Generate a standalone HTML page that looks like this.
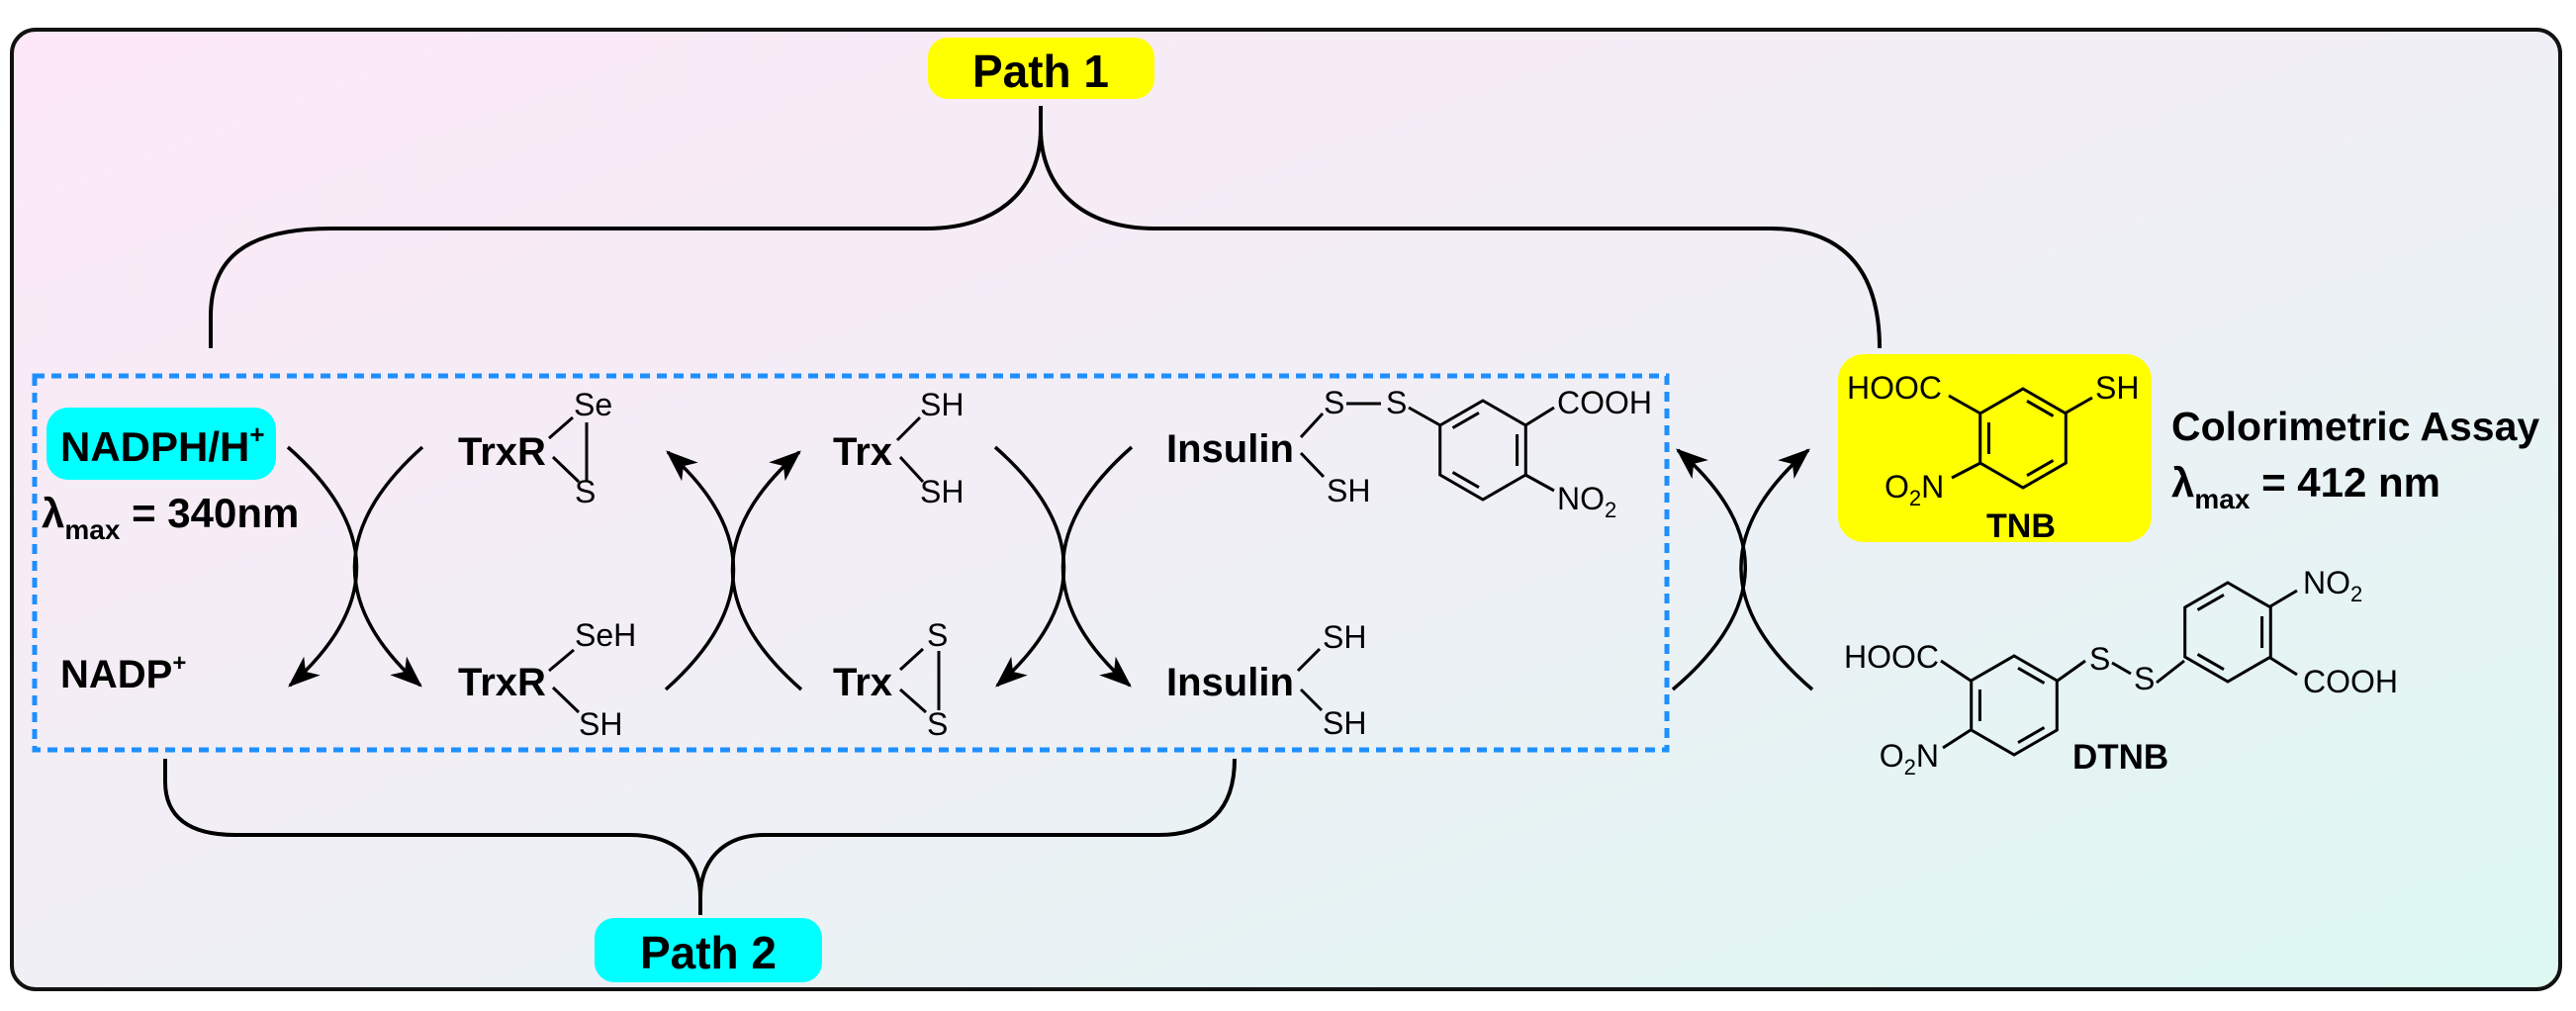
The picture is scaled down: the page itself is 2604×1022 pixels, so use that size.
<!DOCTYPE html>
<html><head><meta charset="utf-8"><style>
html,body{margin:0;padding:0;background:#fff;}
svg{display:block;}
text{font-family:"Liberation Sans",Arial,sans-serif;fill:#000;}
.b{font-weight:bold;}
.a{font-size:32px;}
.m{font-size:40px;font-weight:bold;}
</style></head><body>
<svg width="2604" height="1022" viewBox="0 0 2604 1022" xmlns="http://www.w3.org/2000/svg">
<defs>
<linearGradient id="bg" x1="0" y1="0" x2="1" y2="1">
<stop offset="0" stop-color="#fde8f7"/>
<stop offset="0.5" stop-color="#f0eff6"/>
<stop offset="1" stop-color="#dcf8f1"/>
</linearGradient>
<marker id="ah" markerUnits="userSpaceOnUse" markerWidth="40" markerHeight="40" refX="0" refY="0" viewBox="-30 -15 32 30" orient="auto">
<path d="M2,0 L-24,-10 L-17,0 L-24,10 Z" fill="#000"/>
</marker>
</defs>
<rect x="12" y="30" width="2576" height="970" rx="24" fill="url(#bg)" stroke="#111" stroke-width="4"/>

<!-- Path 1 -->
<rect x="938" y="38" width="229" height="62" rx="20" fill="#ffff00"/>
<text x="1052" y="88" class="b" font-size="46" text-anchor="middle">Path 1</text>
<!-- top brace -->
<path d="M213,352 L213,320 C213,260 250,231 335,231 L937,231 C1010,231 1052,190 1052,130 L1052,107 M1052,130 C1052,190 1094,231 1167,231 L1790,231 C1860,231 1900,270 1900,352" fill="none" stroke="#000" stroke-width="4"/>

<!-- dashed box -->
<rect x="35" y="380" width="1650" height="378" fill="none" stroke="#1e8fff" stroke-width="5" stroke-dasharray="10 7"/>

<!-- bottom brace -->
<path d="M167,767 L167,790 C167,825 190,844 238,844 L636,844 C685,844 708,870 708,907 L708,925 M708,907 C708,870 731,844 773,844 L1171,844 C1220,844 1248,820 1248,767" fill="none" stroke="#000" stroke-width="4"/>
<rect x="601" y="928" width="230" height="65" rx="20" fill="#00ffff"/>
<text x="716" y="979" class="b" font-size="46" text-anchor="middle">Path 2</text>

<!-- NADPH -->
<rect x="47" y="412" width="232" height="73" rx="22" fill="#00ffff"/>
<text x="61" y="466" class="b" font-size="42">NADPH/H<tspan font-size="26" dy="-18">+</tspan></text>
<text x="42" y="533" class="b" font-size="42">λ<tspan font-size="28" dy="12">max</tspan><tspan dy="-12"> = 340nm</tspan></text>
<text x="61" y="695" class="m">NADP<tspan font-size="24" dy="-17">+</tspan></text>

<!-- arrows -->
<g fill="none" stroke="#000" stroke-width="3.5" marker-end="url(#ah)">
<path d="M291,452 Q429,573 293,693"/>
<path d="M427,452 Q291,573 425,693"/>
<path d="M673,697 Q809,576 675,457"/>
<path d="M810,697 Q672,576 808,457"/>
<path d="M1006,452 Q1144,573 1008,693"/>
<path d="M1144,452 Q1006,573 1142,693"/>
<path d="M1691,697 Q1835,575 1696,455"/>
<path d="M1832,697 Q1690,575 1828,455"/>
</g>

<!-- TrxR top -->
<text x="463" y="470" class="m">TrxR</text>
<text x="580" y="420" class="a">Se</text>
<text x="581" y="508" class="a">S</text>
<!-- TrxR bottom -->
<text x="463" y="703" class="m">TrxR</text>
<text x="581" y="653" class="a">SeH</text>
<text x="585" y="743" class="a">SH</text>
<!-- Trx top -->
<text x="842" y="470" class="m">Trx</text>
<text x="930" y="420" class="a">SH</text>
<text x="930" y="508" class="a">SH</text>
<!-- Trx bottom -->
<text x="842" y="703" class="m">Trx</text>
<text x="937" y="653" class="a">S</text>
<text x="937" y="743" class="a">S</text>
<!-- Insulin top -->
<text x="1179" y="467" class="m">Insulin</text>
<text x="1338" y="418" class="a">S</text>
<text x="1401" y="418" class="a">S</text>
<text x="1341" y="507" class="a">SH</text>
<text x="1574" y="418" class="a">COOH</text>
<text x="1574" y="515" class="a">NO<tspan font-size="22" dy="8">2</tspan></text>
<!-- Insulin bottom -->
<text x="1179" y="703" class="m">Insulin</text>
<text x="1337" y="655" class="a">SH</text>
<text x="1337" y="742" class="a">SH</text>

<g fill="none" stroke="#000" stroke-width="3">
<path d="M555,443 L579,422 M559,462 L585,487 M593,427 L593,486"/>
<path d="M555,678 L580,657 M559,695 L585,720"/>
<path d="M907,445 L930,422 M910,462 L933,487"/>
<path d="M910,677 L933,656 M910,697 L936,720 M949,658 L949,718"/>
<path d="M1315,442 L1337,418 M1315,458 L1338,482 M1361,408 L1396,408 M1424,412 L1456,430 M1542,430 L1571,412 M1542,480 L1571,496"/>
<path d="M1312,678 L1334,656 M1315,697 L1336,718"/>
<!-- insulin ring -->
<g transform="translate(1499,455)">
<path d="M0,-50 L43.3,-25 L43.3,25 L0,50 L-43.3,25 L-43.3,-25 Z"/>
<path d="M-30.5,-22.4 L-4,-37.7 M34.6,-16 L34.6,16 M-4,37.7 L-30.5,22.4"/>
</g>
</g>

<!-- TNB -->
<rect x="1858" y="358" width="317" height="190" rx="26" fill="#ffff00"/>
<text x="1867" y="403" class="a">HOOC</text>
<text x="2118" y="403" class="a">SH</text>
<text x="1905" y="503" class="a">O<tspan font-size="22" dy="8">2</tspan><tspan dy="-8">N</tspan></text>
<text x="2008" y="543" class="b" font-size="34">TNB</text>
<g fill="none" stroke="#000" stroke-width="3">
<path d="M1970,400 L2002,418 M2087,418 L2115,402 M2002,468 L1973,483"/>
<g transform="translate(2045,443)">
<path d="M0,-50 L43.3,-25 L43.3,25 L0,50 L-43.3,25 L-43.3,-25 Z"/>
<path d="M4,-37.7 L30.5,-22.4 M-34.6,-16 L-34.6,16 M30.5,22.4 L4,37.7"/>
</g>
</g>
<text x="2195" y="445" class="b" font-size="41">Colorimetric Assay</text>
<text x="2195" y="502" class="b" font-size="42">λ<tspan font-size="28" dy="12">max</tspan><tspan dy="-12"> = 412 nm</tspan></text>

<!-- DTNB -->
<text x="1960" y="675" class="a" text-anchor="end">HOOC</text>
<text x="1960" y="775" class="a" text-anchor="end">O<tspan font-size="22" dy="8">2</tspan><tspan dy="-8">N</tspan></text>
<text x="2112" y="677" class="a">S</text>
<text x="2157" y="697" class="a">S</text>
<text x="2328" y="600" class="a">NO<tspan font-size="22" dy="8">2</tspan></text>
<text x="2328" y="700" class="a">COOH</text>
<text x="2095" y="777" class="b" font-size="35">DTNB</text>
<g fill="none" stroke="#000" stroke-width="3">
<path d="M1962,668 L1992,688 M1992,738 L1964,756 M2080,688 L2108,668 M2135,670 L2154,681 M2180,690 L2208,668 M2295,613 L2322,597 M2295,665 L2322,682"/>
<g transform="translate(2036,713)">
<path d="M0,-50 L43.3,-25 L43.3,25 L0,50 L-43.3,25 L-43.3,-25 Z"/>
<path d="M4,-37.7 L30.5,-22.4 M-34.6,-16 L-34.6,16 M30.5,22.4 L4,37.7"/>
</g>
<g transform="translate(2252,639)">
<path d="M0,-50 L43.3,-25 L43.3,25 L0,50 L-43.3,25 L-43.3,-25 Z"/>
<path d="M-30.5,-22.4 L-4,-37.7 M34.6,-16 L34.6,16 M-4,37.7 L-30.5,22.4"/>
</g>
</g>
</svg>
</body></html>
